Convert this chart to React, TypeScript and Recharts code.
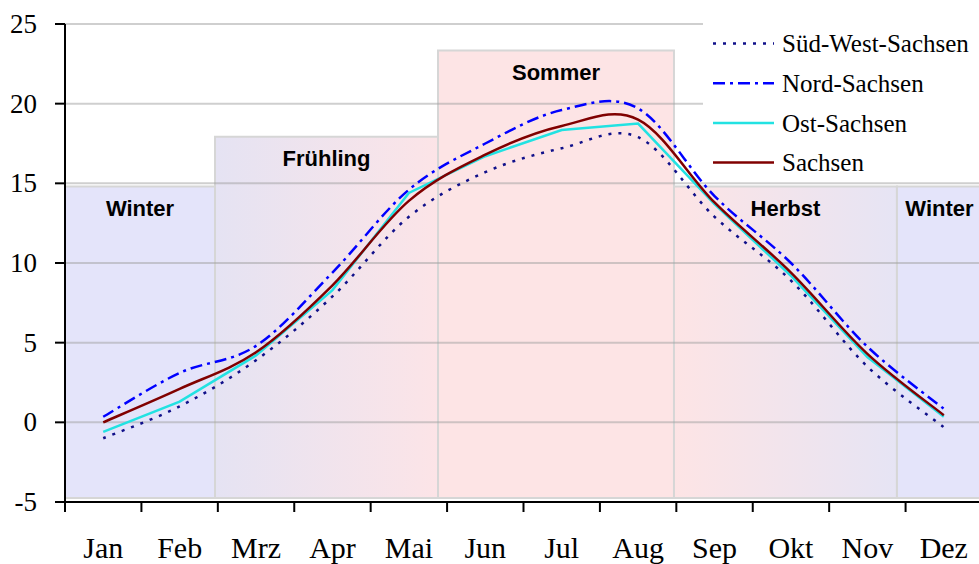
import React from 'react';
import { LineChart, Line, XAxis, YAxis, CartesianGrid, ReferenceArea, Legend } from 'recharts';

const months = ['Jan', 'Feb', 'Mrz', 'Apr', 'Mai', 'Jun', 'Jul', 'Aug', 'Sep', 'Okt', 'Nov', 'Dez'];
const suedWestSachsen = [-1.0, 1.0, 3.9, 7.9, 12.9, 15.7, 17.2, 17.9, 12.9, 8.9, 3.5, -0.3];
const nordSachsen = [0.35, 3.1, 4.8, 9.4, 14.6, 17.5, 19.6, 19.7, 14.2, 10.0, 4.75, 0.85];
const ostSachsen = [-0.6, 1.3, 4.2, 8.3, 14.4, 16.7, 18.35, 18.75, 13.7, 9.2, 4.1, 0.35];
const sachsen = [0.0, 2.1, 4.4, 8.6, 13.9, 16.8, 18.6, 19.0, 13.8, 9.4, 4.3, 0.45];
const yTicks = [-5, 0, 5, 10, 15, 20, 25];

const seasonNames = ['Winter', 'Frühling', 'Sommer', 'Herbst', 'Winter'];
const seasonStart = [0, 1.963, 4.881, 7.969, 10.887];
const seasonEnd = [1.963, 4.881, 7.969, 10.887, 12];
const seasonTop = [14.8, 17.92, 23.34, 14.8, 14.8];
const seasonBottom = -4.75;
const seasonFills = ['#e4e4fa', 'url(#gradSpring)', '#fde4e5', 'url(#gradAutumn)', '#e4e4fa'];

const SERIF = "'Liberation Serif', 'Times New Roman', serif";
const SANS = "'Liberation Sans', Arial, sans-serif";

const toTable = (vals: number[]) => vals.map((v, i) => ({ m: i + 0.5, v }));

// Excel-like smoothed line (Catmull-Rom through the points)
const smoothCurve: any = (context: any) => {
  let pts: number[][] = [];
  return {
    areaStart() {},
    areaEnd() {},
    lineStart() {
      pts = [];
    },
    point(x: number, y: number) {
      pts.push([+x, +y]);
    },
    lineEnd() {
      const n = pts.length;
      if (!n) return;
      context.moveTo(pts[0][0], pts[0][1]);
      for (let i = 0; i < n - 1; i++) {
        const p0 = pts[Math.max(i - 1, 0)];
        const p1 = pts[i];
        const p2 = pts[i + 1];
        const p3 = pts[Math.min(i + 2, n - 1)];
        context.bezierCurveTo(
          p1[0] + (p2[0] - p0[0]) / 6,
          p1[1] + (p2[1] - p0[1]) / 6,
          p2[0] - (p3[0] - p1[0]) / 6,
          p2[1] - (p3[1] - p1[1]) / 6,
          p2[0],
          p2[1]
        );
      }
    },
  };
};

const series = [
  { name: 'Süd-West-Sachsen', values: suedWestSachsen, color: '#10108a', dash: '3 7', width: 2.5, curve: smoothCurve },
  { name: 'Nord-Sachsen', values: nordSachsen, color: '#0000ff', dash: '12 5 3 5', width: 2.5, curve: smoothCurve },
  { name: 'Ost-Sachsen', values: ostSachsen, color: '#22e2e2', dash: undefined, width: 2.5, curve: 'linear' },
  { name: 'Sachsen', values: sachsen, color: '#800000', dash: undefined, width: 2.5, curve: smoothCurve },
];

const boundaryTicks = months.map((_, i) => i).concat([months.length]);
const labelTicks = months.map((_, i) => i + 0.5);

const MonthTick = (props: any) => {
  const { x, y, payload } = props;
  return (
    <text x={x} y={y + 21} textAnchor="middle" fill="#000" style={{ fontFamily: SERIF, fontSize: 30 }}>
      {months[Math.floor(payload.value)]}
    </text>
  );
};

const ValueTick = (props: any) => {
  const { x, y, payload } = props;
  return (
    <text x={x} y={y + 9} textAnchor="end" fill="#000" style={{ fontFamily: SERIF, fontSize: 27 }}>
      {payload.value}
    </text>
  );
};

const renderLegend = () => (
  <div style={{ background: '#fff', width: 290, height: 160 }}>
    <svg width={290} height={160}>
      {series.map((s, i) => {
        const ly = 23.5 + i * 39.7;
        return (
          <g key={s.name}>
            <line x1={10} x2={71} y1={ly} y2={ly} stroke={s.color} strokeWidth={s.width} strokeDasharray={s.dash} />
            <text x={79} y={ly + 8.8} fill="#000" style={{ fontFamily: SERIF, fontSize: 25 }}>
              {s.name}
            </text>
          </g>
        );
      })}
    </svg>
  </div>
);

export default function App() {
  return (
    <div style={{ position: 'fixed', left: 0, top: 0, width: 979, height: 564, overflow: 'hidden', background: '#fff' }}>
      <LineChart width={1000} height={564} margin={{ top: 24, right: 18, bottom: 0, left: 0 }}>
        <defs>
          <linearGradient id="gradSpring" x1="0" y1="0" x2="1" y2="0">
            <stop offset="0%" stopColor="#e5e3f3" />
            <stop offset="100%" stopColor="#fce4e7" />
          </linearGradient>
          <linearGradient id="gradAutumn" x1="0" y1="0" x2="1" y2="0">
            <stop offset="0%" stopColor="#fde4e5" />
            <stop offset="100%" stopColor="#e6e4f4" />
          </linearGradient>
        </defs>
        {seasonNames.map((name, i) => (
          <ReferenceArea
            key={name + i}
            xAxisId="a"
            x1={seasonStart[i]}
            x2={seasonEnd[i]}
            y1={seasonBottom}
            y2={seasonTop[i]}
            fill={seasonFills[i]}
            fillOpacity={1}
            stroke="#d6d6d6"
            strokeWidth={2}
            ifOverflow="visible"
            zIndex={-150}
            label={{
              value: name,
              position: 'insideTop',
              offset: 14,
              fontSize: 22,
              fontWeight: 700,
              fontFamily: SANS,
              fill: '#000',
            }}
          />
        ))}
        <CartesianGrid xAxisId="a" vertical={false} stroke="#a0a0a0" strokeOpacity={0.5} strokeWidth={2} />
        <XAxis
          xAxisId="a"
          type="number"
          dataKey="m"
          domain={[0, 12]}
          ticks={boundaryTicks}
          interval={0}
          tickFormatter={() => ''}
          height={12}
          tickSize={10}
          axisLine={{ stroke: '#000', strokeWidth: 2 }}
          tickLine={{ stroke: '#000', strokeWidth: 2 }}
          allowDataOverflow
        />
        <XAxis
          xAxisId="b"
          type="number"
          dataKey="m"
          domain={[0, 12]}
          ticks={labelTicks}
          interval={0}
          height={50}
          tickSize={0}
          tickMargin={23}
          axisLine={false}
          tickLine={false}
          tick={<MonthTick />}
          allowDataOverflow
        />
        <YAxis
          type="number"
          domain={[-5, 25]}
          ticks={yTicks}
          interval={0}
          width={65}
          tickSize={10}
          tickMargin={18}
          axisLine={{ stroke: '#000', strokeWidth: 2 }}
          tickLine={{ stroke: '#000', strokeWidth: 2 }}
          tick={<ValueTick />}
          allowDataOverflow
        />
        {series.map((s) => (
          <Line
            key={s.name}
            xAxisId="a"
            data={toTable(s.values)}
            dataKey="v"
            name={s.name}
            type={s.curve}
            stroke={s.color}
            strokeWidth={s.width}
            strokeDasharray={s.dash}
            dot={false}
            activeDot={false}
            isAnimationActive={false}
          />
        ))}
        <Legend
          layout="vertical"
          align="center"
          verticalAlign="middle"
          wrapperStyle={{ top: 20, left: 703, width: 290, height: 160 }}
          content={renderLegend}
        />
      </LineChart>
    </div>
  );
}
